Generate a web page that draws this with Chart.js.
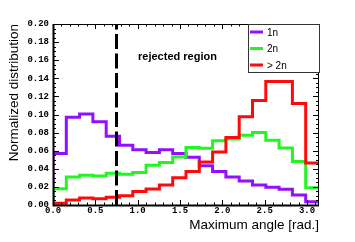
<!DOCTYPE html>
<html>
<head>
<meta charset="UTF-8">
<script src="https://cdn.jsdelivr.net/npm/chart.js"></script>
<style>
    body { margin: 0; background: #fff; }
    #wrap { width: 355px; height: 242px; }
</style>
</head>
<body>
<div id="wrap"><canvas id="chart" width="355" height="242"></canvas></div>
<script>
    // histogram contents, 20 bins from 0 to pi
    const angleMax = Math.PI;
    const oneN  = [0.057, 0.097, 0.1005, 0.092, 0.076, 0.066, 0.061, 0.058, 0.061, 0.057,
                   0.0527, 0.0435, 0.037, 0.031, 0.0265, 0.022, 0.0195, 0.0173, 0.011, 0.0037];
    const twoN  = [0.018, 0.031, 0.033, 0.032, 0.035, 0.034, 0.036, 0.044, 0.047, 0.053,
                   0.0635, 0.0627, 0.071, 0.073, 0.077, 0.080, 0.0715, 0.063, 0.048, 0.019];
    const moreN = [0.002, 0.0055, 0.0077, 0.007, 0.0085, 0.0103, 0.015, 0.0177, 0.022, 0.030,
                   0.037, 0.0475, 0.0585, 0.0745, 0.0976, 0.1155, 0.1365, 0.1365, 0.1122, 0.0465];
    const seriesNames  = ['1n', '2n', '> 2n'];
    const seriesColors = ['#9010ff', '#22f522', '#ff0a0a'];
    const xTicks = [0, 0.5, 1.0, 1.5, 2.0, 2.5, 3.0];
    const yTicks = [0, 0.02, 0.04, 0.06, 0.08, 0.10, 0.12, 0.14, 0.16, 0.18, 0.20];
    const yMax = 0.20;
    const rejectCut = 0.75;

    function histPoints(vals) {
        const w = angleMax / vals.length;
        const pts = [{x: 0, y: 0}];
        vals.forEach((v, i) => pts.push({x: i * w, y: v}));
        pts.push({x: angleMax, y: vals[vals.length - 1]});
        return pts;
    }

    const monoFont = {family: 'Liberation Mono', size: 9, weight: 'bold'};
    const sansFont = {family: 'Liberation Sans', size: 13.5};

    // frame + root style inward ticks
    const framePlugin = {
        id: 'frame',
        afterDatasetsDraw(chart) {
            const {ctx, chartArea: a, scales: {x, y}} = chart;
            ctx.save();
            ctx.strokeStyle = '#000';
            ctx.lineWidth = 1;
            ctx.beginPath();
            for (let k = 0; k <= 40; k++) {
                const py = Math.round(y.getPixelForValue(k * 0.005)) + 0.5;
                const len = k % 4 === 0 ? 6 : 3;
                ctx.moveTo(a.left, py); ctx.lineTo(a.left + len, py);
                ctx.moveTo(a.right, py); ctx.lineTo(a.right - len, py);
            }
            for (let k = 0; k <= 31; k++) {
                const px = Math.round(x.getPixelForValue(k * 0.1)) + 0.5;
                const len = k % 5 === 0 ? 5 : 2.5;
                ctx.moveTo(px, a.bottom); ctx.lineTo(px, a.bottom - len);
                ctx.moveTo(px, a.top); ctx.lineTo(px, a.top + len);
            }
            ctx.stroke();
            ctx.strokeRect(a.left + 0.5, a.top + 0.5, a.right - a.left - 1, a.bottom - a.top);
            ctx.lineWidth = 2;
            ctx.beginPath();
            ctx.moveTo(a.left + 0.5, a.top);
            ctx.lineTo(a.left + 0.5, a.bottom + 0.5);
            ctx.lineTo(a.right, a.bottom + 0.5);
            ctx.stroke();

            // annotation
            ctx.fillStyle = '#000';
            ctx.font = 'bold 11px "Liberation Sans"';
            ctx.textAlign = 'center';
            ctx.textBaseline = 'middle';
            ctx.fillText('rejected region', x.getPixelForValue(1.47), y.getPixelForValue(0.1635));

            // legend box
            const bx = 248, by = a.top, bw = a.right - 248, bh = 48;
            ctx.fillStyle = '#fff';
            ctx.fillRect(bx, by, bw, bh);
            ctx.strokeStyle = '#333';
            ctx.lineWidth = 1;
            ctx.strokeRect(bx + 0.5, by + 0.5, bw, bh);
            ctx.font = '10px "Liberation Sans"';
            ctx.textAlign = 'left';
            seriesNames.forEach((name, i) => {
                const ly = by + 8 + i * 16.5;
                ctx.strokeStyle = seriesColors[i];
                ctx.lineWidth = 3;
                ctx.beginPath();
                ctx.moveTo(bx + 2, ly); ctx.lineTo(bx + 15, ly);
                ctx.stroke();
                ctx.fillStyle = '#000';
                ctx.fillText(name, bx + 19, ly + 1);
            });
            ctx.restore();
        }
    };

    const histSets = [moreN, twoN, oneN].map((vals, j) => {
        const i = 2 - j;
        return {
            label: seriesNames[i],
            data: histPoints(vals),
            borderColor: seriesColors[i],
            borderWidth: 3,
            stepped: true,
            pointRadius: 0,
            fill: false
        };
    });

    new Chart(document.getElementById('chart'), {
        type: 'line',
        data: {
            datasets: [{
                label: 'cut',
                data: [{x: rejectCut, y: 0}, {x: rejectCut, y: yMax}],
                borderColor: '#000',
                borderWidth: 3,
                borderDash: [15, 4.5],
                pointRadius: 0
            }, ...histSets]
        },
        options: {
            responsive: false,
            animation: false,
            layout: {padding: {left: 0, right: 36, top: 24, bottom: 0}},
            plugins: {legend: {display: false}, tooltip: {enabled: false}},
            scales: {
                x: {
                    type: 'linear', min: 0, max: angleMax,
                    afterBuildTicks: s => { s.ticks = xTicks.map(v => ({value: v})); },
                    afterFit: s => { s.height = 37; },
                    grid: {display: false, drawTicks: false}, border: {display: false},
                    ticks: {callback: v => v.toFixed(1), font: monoFont, color: '#000',
                            padding: 0, maxRotation: 0, autoSkip: false},
                    title: {display: true, text: 'Maximum angle [rad.]', align: 'end',
                            font: sansFont, color: '#000', padding: {top: 0, bottom: 9}}
                },
                y: {
                    type: 'linear', min: 0, max: yMax,
                    afterBuildTicks: s => { s.ticks = yTicks.map(v => ({value: v})); },
                    afterFit: s => { s.width = 53; },
                    grid: {display: false, drawTicks: false}, border: {display: false},
                    ticks: {callback: v => v.toFixed(2), font: monoFont, color: '#000',
                            padding: 4, autoSkip: false},
                    title: {display: true, text: 'Normalized distribution', align: 'end',
                            font: sansFont, color: '#000', padding: {top: 6, bottom: 0}}
                }
            }
        },
        plugins: [framePlugin]
    });
</script>
</body>
</html>
